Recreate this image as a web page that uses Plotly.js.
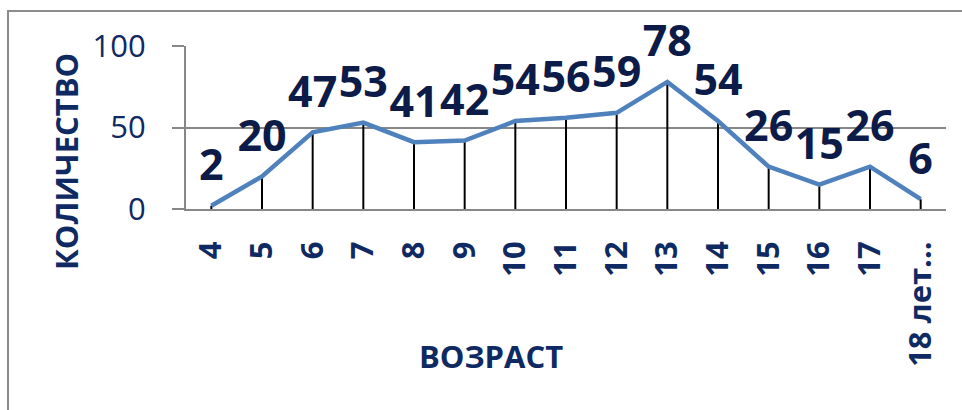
<!DOCTYPE html>
<html>
<head>
<meta charset="utf-8">
<script src="https://cdn.plot.ly/plotly-3.0.1.min.js"></script>
<style>
html,body{margin:0;padding:0;width:962px;height:410px;overflow:hidden;background:#fff;}
#frame{position:absolute;left:7px;top:10px;width:1100px;height:600px;border:2px solid #8c8c8c;box-sizing:border-box;}
#chart{position:absolute;left:0;top:0;width:962px;height:410px;}
</style>
</head>
<body>
<div id="frame"></div>
<div id="chart"></div>
<script>
const ages = ['4','5','6','7','8','9','10','11','12','13','14','15','16','17','18 лет…'];
const counts = [2,20,47,53,41,42,54,56,59,78,54,26,15,26,6];
const yTicks = [0,50,100];
const zeros = counts.map(() => 0);

const navy = '#0f2a62';
const labelNavy = '#0c1b48';
const grid = '#878787';

const trace = {
  type: 'scatter',
  mode: 'lines+markers+text',
  x: ages,
  y: counts,
  text: counts.map(String),
  textposition: 'top center',
  textfont: {family: 'Open Sans', size: 43, color: labelNavy, weight: 'bold'},
  cliponaxis: false,
  line: {color: '#4f81bd', width: 4.5},
  marker: {size: 22, color: 'rgba(0,0,0,0)'},
  error_y: {type: 'data', symmetric: false, array: zeros, arrayminus: counts, width: 0, thickness: 2, color: '#000'},
  hoverinfo: 'skip'
};

const layout = {
  width: 962, height: 410,
  margin: {l: 186, r: 16, t: 46, b: 201},
  paper_bgcolor: 'rgba(0,0,0,0)',
  plot_bgcolor: 'rgba(0,0,0,0)',
  showlegend: false,
  xaxis: {
    type: 'category',
    range: [-0.5, ages.length - 0.5],
    showgrid: false,
    showline: true, linecolor: grid, linewidth: 2,
    ticks: '', tickangle: -90,
    ticklabelstandoff: 18,
    tickfont: {family: 'Open Sans', size: 31, color: navy, weight: 'bold'},
    fixedrange: true
  },
  yaxis: {
    range: [0, 100],
    tickvals: yTicks,
    ticktext: yTicks.map(String),
    showgrid: true, gridcolor: grid, gridwidth: 2,
    showline: true, linecolor: grid, linewidth: 2,
    zeroline: false,
    ticks: 'outside', ticklen: 12, tickcolor: grid, tickwidth: 2,
    ticklabelstandoff: 20,
    tickfont: {family: 'Open Sans', size: 31, color: navy},
    fixedrange: true
  },
  annotations: [
    {text: 'КОЛИЧЕСТВО', xref: 'paper', yref: 'paper', x: (66 - 186) / 760, y: (209 - 162) / 163,
     xanchor: 'center', yanchor: 'middle', textangle: -90, showarrow: false,
     font: {family: 'Open Sans', size: 31, color: navy, weight: 'bold'}},
    {text: 'ВОЗРАСТ', xref: 'paper', yref: 'paper', x: (491 - 186) / 760, y: (209 - 356) / 163,
     xanchor: 'center', yanchor: 'middle', showarrow: false,
     font: {family: 'Open Sans', size: 31, color: navy, weight: 'bold'}}
  ]
};

Plotly.newPlot('chart', [trace], layout, {displayModeBar: false, staticPlot: true});
</script>
</body>
</html>
